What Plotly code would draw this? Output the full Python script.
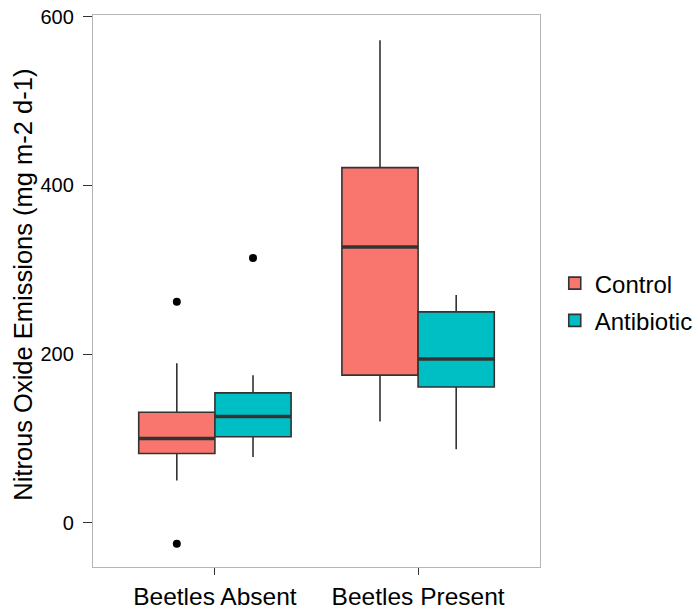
import plotly.graph_objects as go

# ---- data ----
groups = ["Beetles Absent", "Beetles Present"]
treatments = ["Control", "Antibiotic"]
colors = ["#F8766D", "#00BFC4"]

control_lower = [50, 120]
control_q1 = [82, 175]
control_median = [100, 327]
control_q3 = [131, 421]
control_upper = [189, 572]
control_outliers = [[262, -25], []]

antibiotic_lower = [78, 87]
antibiotic_q1 = [102, 161]
antibiotic_median = [126, 194]
antibiotic_q3 = [154, 250]
antibiotic_upper = [175, 270]
antibiotic_outliers = [[314], []]

y_ticks = [0, 200, 400, 600]
y_title = "Nitrous Oxide Emissions (mg m-2 d-1)"

stats = [
    (control_lower, control_q1, control_median, control_q3, control_upper, control_outliers),
    (antibiotic_lower, antibiotic_q1, antibiotic_median, antibiotic_q3, antibiotic_upper, antibiotic_outliers),
]

dodge = 0.75
bw = dodge / len(treatments)
centers = list(range(1, len(groups) + 1))

fig = go.Figure()
edge = "#333333"
for ti, (name, col, st) in enumerate(zip(treatments, colors, stats)):
    lo, q1, md, q3, hi, outs = st
    xs = [c - dodge / 2 + bw * (ti + 0.5) for c in centers]
    fig.add_trace(go.Box(
        x=xs, q1=q1, median=md, q3=q3, lowerfence=lo, upperfence=hi,
        orientation="v", width=bw, name=name, fillcolor=col,
        line=dict(color=edge, width=1.6), whiskerwidth=0, boxpoints=False,
        legendgroup=name, hoverinfo="skip",
    ))
    # thick median segments
    mx, my = [], []
    for x, m in zip(xs, md):
        mx += [x - bw / 2, x + bw / 2, None]
        my += [m, m, None]
    fig.add_trace(go.Scatter(x=mx, y=my, mode="lines", line=dict(color=edge, width=3.5),
                             showlegend=False, hoverinfo="skip"))
    # outliers
    ox, oy = [], []
    for x, o in zip(xs, outs):
        ox += [x] * len(o)
        oy += o
    if ox:
        fig.add_trace(go.Scatter(x=ox, y=oy, mode="markers",
                                 marker=dict(color="black", size=8),
                                 showlegend=False, hoverinfo="skip"))

font_family = "Liberation Sans, Arial, Helvetica, sans-serif"
fig.update_layout(
    width=699, height=609,
    margin=dict(l=93, r=159, t=15, b=42, autoexpand=False),
    paper_bgcolor="white", plot_bgcolor="white",
    font=dict(family=font_family, color="black"),
    showlegend=True,
    legend=dict(x=1.033, xanchor="left", y=0.48, yanchor="middle",
                font=dict(size=24, color="black"), bgcolor="rgba(0,0,0,0)",
                traceorder="grouped", tracegroupgap=3),
    xaxis=dict(range=[0.4, 2.6], tickvals=centers, ticktext=groups,
               automargin=False, ticklabeloverflow="allow",
               showgrid=False, zeroline=False, showline=True, mirror=True,
               linecolor="#b5b5b5", linewidth=1.3,
               ticks="outside", ticklen=7, tickwidth=1.3, tickcolor="#333333",
               tickfont=dict(size=24.5, color="black"), ticklabelstandoff=0),
    yaxis=dict(range=[-52.5, 602], tickvals=y_ticks,
               automargin=False, ticklabeloverflow="allow",
               showgrid=False, zeroline=False, showline=True, mirror=True,
               linecolor="#b5b5b5", linewidth=1.3,
               ticks="outside", ticklen=9, tickwidth=1.3, tickcolor="#333333",
               tickfont=dict(size=20, color="black"), ticklabelstandoff=5),
    annotations=[dict(text=y_title, textangle=-90, xref="paper", yref="paper",
                      x=-0.157, y=0.511, xanchor="center", yanchor="middle",
                      showarrow=False, font=dict(size=25.5, color="black"))],
)

# remove the default 8px page margin so the figure sits at the window's corner
fig.write_html("out.html", config={"displayModeBar": False},
               post_script="document.body.style.margin='0';")
